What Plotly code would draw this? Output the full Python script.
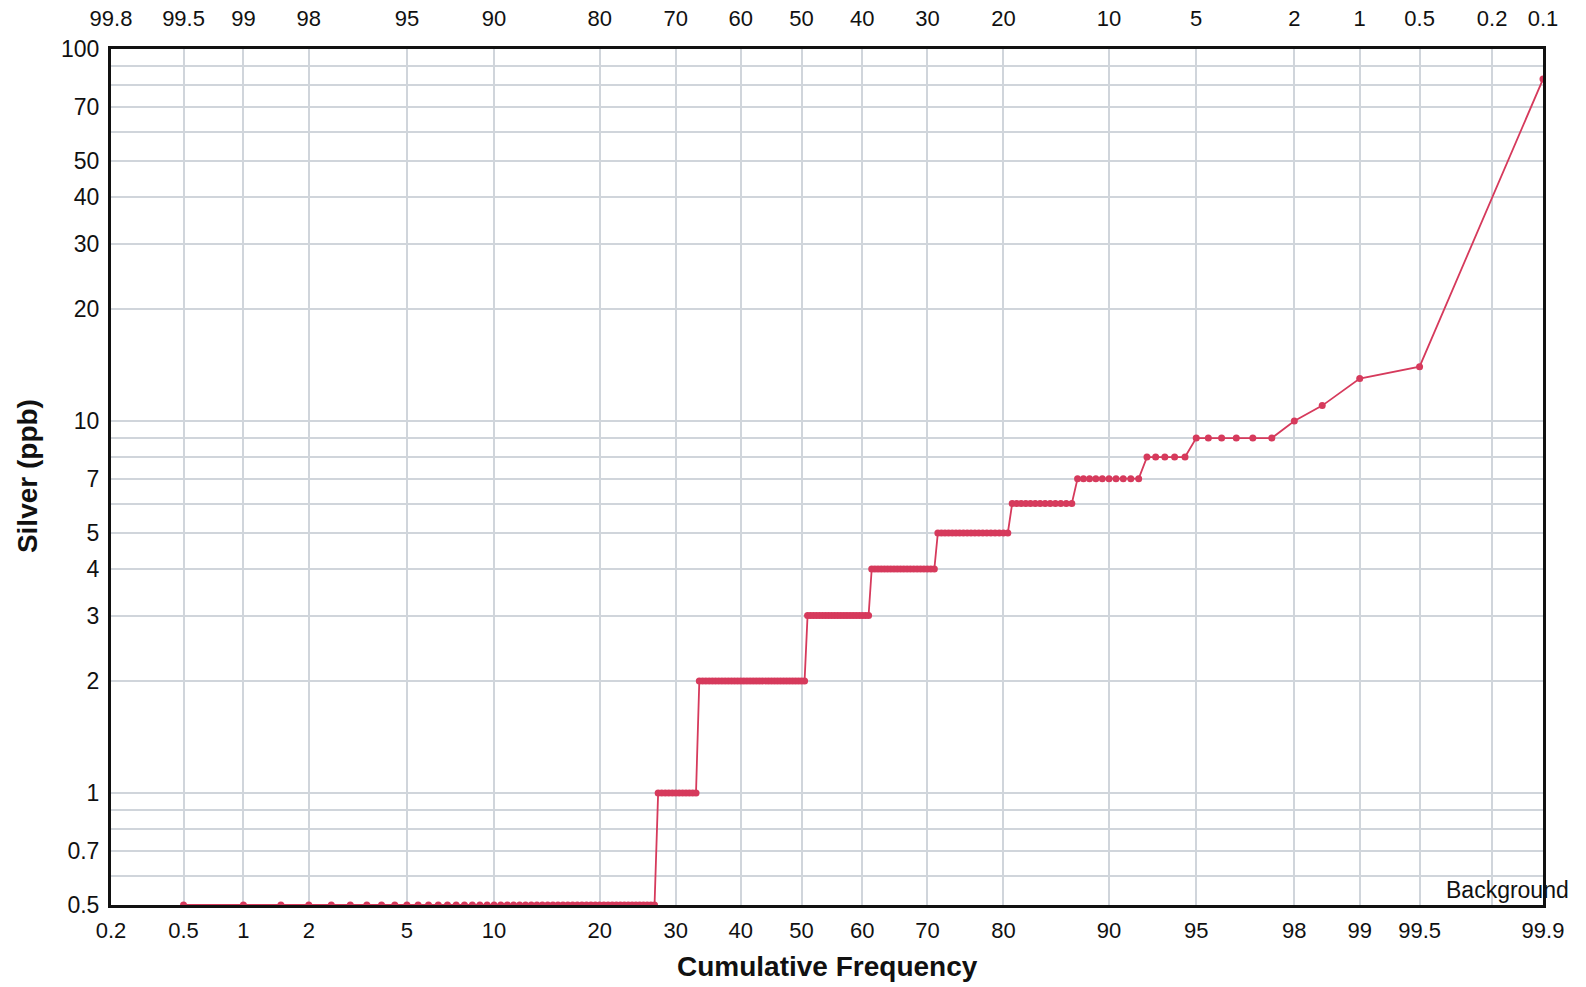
from statistics import NormalDist
import numpy as np
import plotly.graph_objects as go

# Silver assay results (ppb): distinct levels and number of samples at each level
silver_levels = [0.5, 1, 2, 3, 4, 5, 6, 7, 8, 9, 10, 11, 13, 14, 83]
sample_counts = [54, 12, 35, 21, 20, 19, 13, 10, 5, 6, 1, 1, 1, 1, 1]

# Probability-scale ticks (cumulative frequency, %)
bottom_ticks = [0.2, 0.5, 1, 2, 5, 10, 20, 30, 40, 50, 60, 70, 80, 90, 95, 98, 99, 99.5, 99.8, 99.9]
bottom_labels = ["0.2", "0.5", "1", "2", "5", "10", "20", "30", "40", "50", "60", "70",
                 "80", "90", "95", "98", "99", "99.5", "", "99.9"]
top_labels = ["99.8", "99.5", "99", "98", "95", "90", "80", "70", "60", "50", "40", "30",
              "20", "10", "5", "2", "1", "0.5", "0.2", "0.1"]

# Log-scale ticks for silver
y_ticks = [0.5, 0.6, 0.7, 0.8, 0.9, 1, 2, 3, 4, 5, 6, 7, 8, 9, 10, 20, 30, 40, 50, 60, 70, 80, 90, 100]
y_labels = ["0.5", "", "0.7", "", "", "1", "2", "3", "4", "5", "", "7", "", "", "10",
            "20", "30", "40", "50", "", "70", "", "", "100"]

P_MIN, P_MAX = 0.2, 99.9
nd = NormalDist()


def probit(p):
    return [nd.inv_cdf(v / 100.0) for v in np.atleast_1d(p)]


# Sorted samples and their cumulative frequency (rank / n), capped at the axis end
values = np.repeat(silver_levels, sample_counts)
n = len(values)
cum_freq = np.minimum(100.0 * np.arange(1, n + 1) / n, P_MAX)
x_pos = probit(cum_freq)

x_range = probit([P_MIN, P_MAX])
tick_pos = probit(bottom_ticks)

LINE = "rgb(214,58,92)"
GRID = "rgb(208,213,219)"
FONT = "Arial, Liberation Sans, sans-serif"

fig = go.Figure()
fig.add_trace(go.Scatter(
    x=x_pos, y=values, mode="lines+markers",
    line=dict(color=LINE, width=1.8),
    marker=dict(color=LINE, size=7),
    showlegend=False,
))
# anchor trace for the top (exceedance) axis
fig.add_trace(go.Scatter(
    x=[x_pos[0]], y=[values[0]], xaxis="x2", mode="markers",
    marker=dict(opacity=0), hoverinfo="skip", showlegend=False,
))

fig.update_layout(
    width=1586, height=987,
    margin=dict(l=111, r=43, t=49, b=82),
    paper_bgcolor="white", plot_bgcolor="white",
    font=dict(family=FONT, size=22, color="#111"),
    xaxis=dict(
        range=x_range, tickmode="array", tickvals=tick_pos, ticktext=bottom_labels,
        showgrid=True, gridcolor=GRID, gridwidth=1.6, zeroline=False,
        showline=True, linecolor="#111", linewidth=3, mirror=True,
        ticks="", ticklabelstandoff=4, automargin=False,
    ),
    xaxis2=dict(
        range=x_range, overlaying="x", side="top", anchor="y",
        tickmode="array", tickvals=tick_pos, ticktext=top_labels,
        showgrid=False, zeroline=False, showline=False, ticks="", ticklabelstandoff=18,
        automargin=False,
    ),
    yaxis=dict(
        type="log", range=[np.log10(0.5), 2], tickmode="array",
        tickvals=y_ticks, ticktext=y_labels,
        showgrid=True, gridcolor=GRID, gridwidth=1.6, zeroline=False,
        showline=True, linecolor="#111", linewidth=3, mirror=True,
        ticks="", ticklabelstandoff=4, tickfont=dict(size=23), automargin=False,
    ),
    annotations=[
        dict(text="<b>Cumulative Frequency</b>", xref="paper", yref="paper",
             x=0.5, y=-0.0713, xanchor="center", yanchor="middle",
             showarrow=False, font=dict(size=28, family=FONT, color="#111")),
        dict(text="<b>Silver (ppb)</b>", xref="paper", yref="paper",
             x=-0.0587, y=0.501, xanchor="center", yanchor="middle", textangle=-90,
             showarrow=False, font=dict(size=28, family=FONT, color="#111")),
        dict(text="Background", xref="paper", yref="paper",
             x=0.975, y=0.0175, xanchor="center", yanchor="middle",
             showarrow=False, font=dict(size=23, family=FONT, color="#111")),
    ],
)

fig.write_html("out.html")
